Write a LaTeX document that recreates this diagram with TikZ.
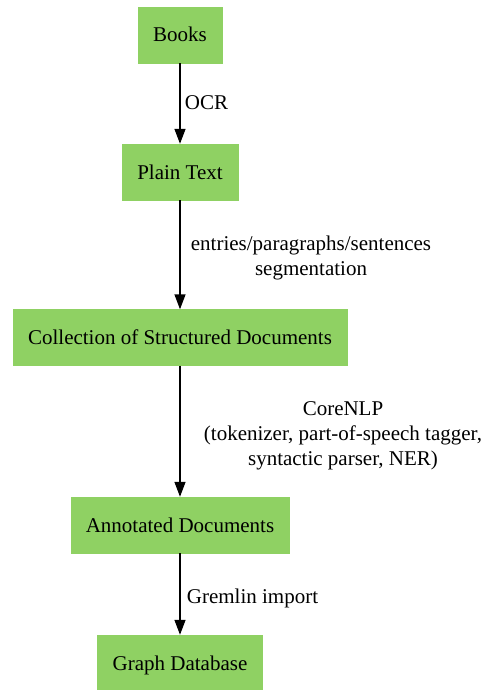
\documentclass[tikz,border=0pt]{standalone}
\usepackage{fontspec}
\setmainfont{LiberationSerif}[Extension=.ttf, UprightFont=*-Regular, BoldFont=*-Bold]
\usetikzlibrary{arrows.meta}
\definecolor{boxgreen}{HTML}{8FD163}
\begin{document}
\begin{tikzpicture}[x=1pt,y=-1pt,
  stage/.style={fill=boxgreen, draw=boxgreen, minimum width=84pt, minimum height=56pt,
    inner xsep=15pt, inner ysep=0pt, text height=15pt, text depth=1pt,
    font=\rmfamily\fontsize{21}{25}\selectfont},
  flow/.style={-{Triangle[length=15pt,width=11pt]}, line width=1.4pt},
  lbl/.style={font=\rmfamily\fontsize{21}{25}\selectfont, inner sep=0pt, anchor=base, align=center}]
\useasboundingbox (0,0) rectangle (487,690);
\node[stage] (books) at (180,35) {Books};
\node[stage] (plain) at (180,172) {Plain Text};
\node[stage] (coll) at (180,337.5) {Collection of Structured Documents};
\node[stage] (annot) at (180,525) {Annotated Documents};
\node[stage] (graph) at (180,663) {Graph Database};
\draw[flow] (books) -- (plain);
\draw[flow] (plain) -- (coll);
\draw[flow] (coll) -- (annot);
\draw[flow] (annot) -- (graph);
\node[lbl] (ocr) at (206.5,110) {OCR};
\node[lbl] (seg) at (311,275) {entries/paragraphs/sentences\\segmentation};
\node[lbl] (nlp) at (343,465) {CoreNLP\\(tokenizer, part-of-speech tagger,\\syntactic parser, NER)};
\node[lbl] (grem) at (252.5,603) {Gremlin import};
\end{tikzpicture}
\end{document}
